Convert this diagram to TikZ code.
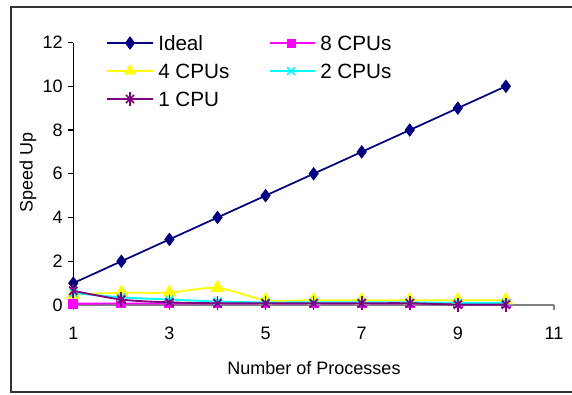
\documentclass[tikz,border=0pt]{standalone}
\usepackage{fontspec}
\setmainfont{Liberation Sans}
\usetikzlibrary{plotmarks}
\definecolor{navy}{HTML}{000080}
\definecolor{pmag}{HTML}{FF00FF}
\definecolor{pyel}{HTML}{FFFF00}
\definecolor{pcyan}{HTML}{00FFFF}
\definecolor{ppur}{HTML}{800080}
\definecolor{frame}{HTML}{333333}
\begin{document}
\begin{tikzpicture}[x=0.75pt,y=-0.75pt,
  ticklab/.style={font=\fontsize{13.5}{15}\selectfont, inner sep=0pt},
  leglab/.style={font=\fontsize{15.5}{17}\selectfont, inner sep=0pt, anchor=west},
  sideal/.style={draw=navy, line width=1.3pt},
  s8/.style={draw=pmag, line width=1.4pt},
  s4/.style={draw=pyel, line width=1.4pt},
  s2/.style={draw=pcyan, line width=1.4pt},
  s1/.style={draw=ppur, line width=1.4pt},
  mideal/.style={mark=diamond*, mark size=4.6pt, mark options={solid, fill=navy, draw=navy, line width=0.6pt}},
  m8/.style={mark=square*, mark size=3pt, mark options={solid, fill=pmag, draw=pmag}},
  m4/.style={mark=triangle*, mark size=4.8pt, mark options={solid, fill=pyel, draw=pyel}},
  m2/.style={mark=x, mark size=4pt, mark options={solid, draw=pcyan, line width=1.1pt}},
  m1/.style={mark=x, mark size=4.3pt, mark options={solid, draw=ppur, line width=1.3pt}},
  m1v/.style={mark=|, mark size=5.3pt, mark options={solid, draw=ppur, line width=1.3pt}},
]
\useasboundingbox (0,0) rectangle (572,394);
\fill[white] (0,0) rectangle (572,394);
% frame
\draw[frame, line width=1.6pt] (574,7) -- (11,7) -- (11,392) -- (574,392);

% axes
\coordinate (yb) at (73.3,305);
\coordinate (yt) at (73.3,42.5);
\coordinate (xr) at (554,305);
\draw[black, line width=0.8pt] (yb) -- (yt);
\foreach \v [count=\i from 0] in {0,2,4,6,8,10,12} {
  \draw[black, line width=0.8pt] (67.5,305-\v*21.875) -- (73.3,305-\v*21.875);
  \node[ticklab, anchor=east] (yl\i) at (63,305-\v*21.875) {\v};
}
\draw[gray, line width=0.8pt] (yb) -- (xr);
\foreach \v [count=\i from 0] in {1,3,5,7,9,11} {
  \draw[gray, line width=0.8pt] (73.3+\v*48.07-48.07,305) -- (73.3+\v*48.07-48.07,310);
  \node[ticklab] (xl\i) at (73.3+\v*48.07-48.07,333) {\v};
}
\node[ticklab] (xtitle) at (314,368) {Number of Processes};
\node[ticklab, rotate=90] (ytitle) at (28,172) {Speed Up};

% data
\begin{scope}[shift={(25.23,305)}, x=36.05pt, y=16.406pt]
\draw[sideal] plot[mideal] coordinates {(1,1) (2,2) (3,3) (4,4) (5,5) (6,6) (7,7) (8,8) (9,9) (10,10)};
\draw[s8] plot[m8] coordinates {(1,0.06) (2,0.07) (3,0.07) (4,0.07) (5,0.07) (6,0.07) (7,0.07) (8,0.07) (9,0.07) (10,0.07)};
\draw[s4] plot[smooth, tension=0.5, m4] coordinates {(1,0.48) (2,0.56) (3,0.57) (4,0.78) (5,0.22) (6,0.22) (7,0.22) (8,0.22) (9,0.22) (10,0.22)};
\draw[s2] plot[smooth, tension=0.5, m2] coordinates {(1,0.55) (2,0.35) (3,0.25) (4,0.16) (5,0.12) (6,0.12) (7,0.12) (8,0.12) (9,0.1) (10,0.1)};
\draw[s1] plot[smooth, tension=0.5, m1] coordinates {(1,0.65) (2,0.25) (3,0.12) (4,0.08) (5,0.08) (6,0.08) (7,0.08) (8,0.08) (9,0.02) (10,0.02)};
\path plot[only marks, m1v] coordinates {(1,0.65) (2,0.25) (3,0.12) (4,0.08) (5,0.08) (6,0.08) (7,0.08) (8,0.08) (9,0.02) (10,0.02)};
\end{scope}

% legend
\coordinate (la1) at (107,43); \coordinate (lb1) at (153,43);
\coordinate (la2) at (107,71); \coordinate (lb2) at (153,71);
\coordinate (la3) at (107,99); \coordinate (lb3) at (153,99);
\coordinate (la4) at (270,43); \coordinate (lb4) at (315,43);
\coordinate (la5) at (270,71); \coordinate (lb5) at (315,71);
\draw[sideal] (la1) -- (lb1);
\path plot[only marks, mideal] coordinates {(130,43)};
\node[leglab] (lg1) at (158,43) {Ideal};
\draw[s4] (la2) -- (lb2);
\path plot[only marks, m4] coordinates {(130,71)};
\node[leglab] (lg2) at (158,71) {4 CPUs};
\draw[s1] (la3) -- (lb3);
\path plot[only marks, m1] coordinates {(130,99)};
\path plot[only marks, m1v] coordinates {(130,99)};
\node[leglab] (lg3) at (158,99) {1 CPU};
\draw[s8] (la4) -- (lb4);
\path plot[only marks, m8] coordinates {(291,43)};
\node[leglab] (lg4) at (320,43) {8 CPUs};
\draw[s2] (la5) -- (lb5);
\path plot[only marks, m2] coordinates {(291,71)};
\node[leglab] (lg5) at (320,71) {2 CPUs};
\end{tikzpicture}
\end{document}
